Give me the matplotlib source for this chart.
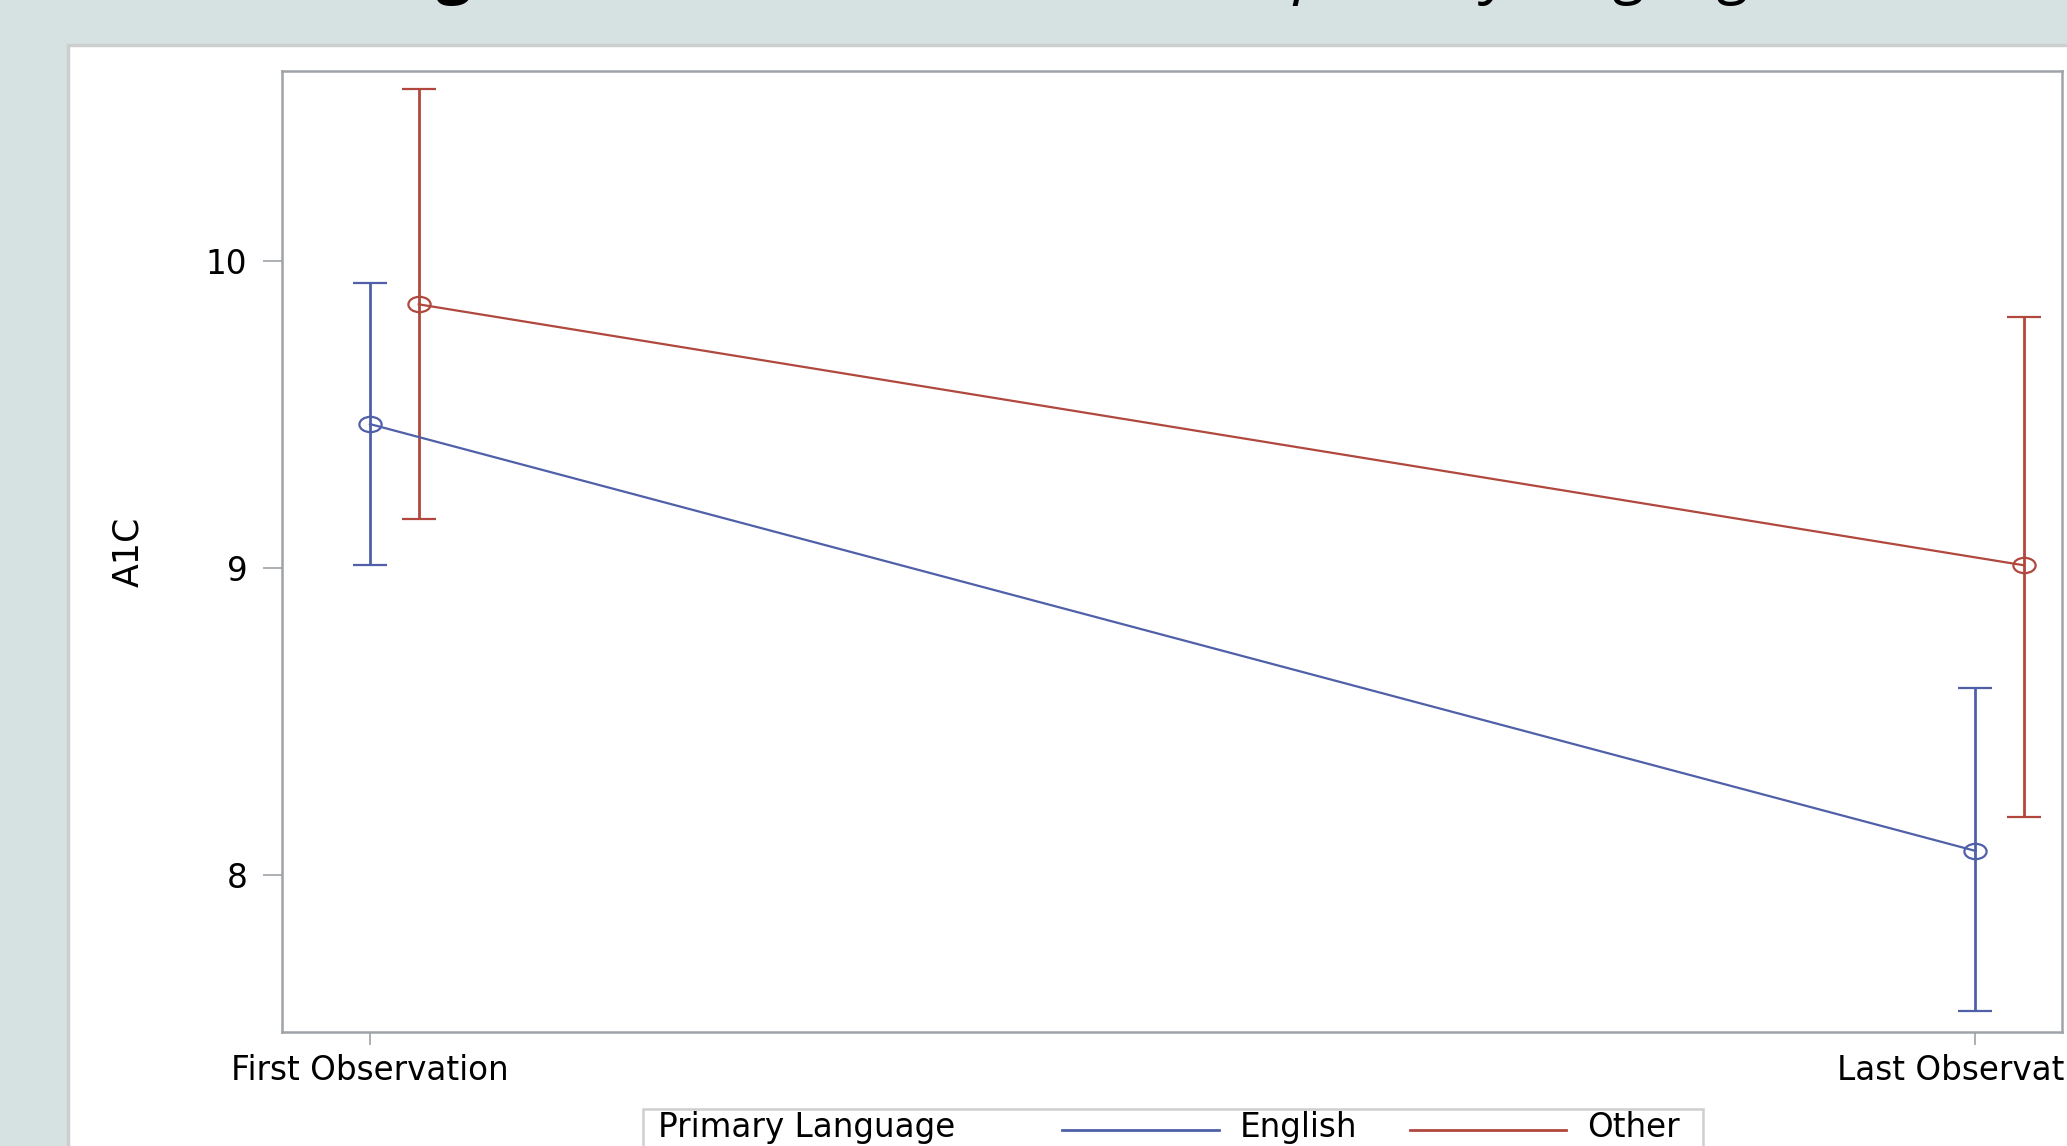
import matplotlib
matplotlib.use('Agg')
import matplotlib.pyplot as plt
import numpy as np
from matplotlib.path import Path
from matplotlib.patches import Rectangle
from matplotlib.lines import Line2D
from matplotlib.transforms import Affine2D

# mean A1C with 95% CI, per observation and primary language
obs_labels = ['First Observation', 'Last Observation']
english_mean = [9.47, 8.08]
english_lo = [9.01, 7.56]
english_hi = [9.93, 8.61]
other_mean = [9.86, 9.01]
other_lo = [9.16, 8.19]
other_hi = [10.56, 9.82]

BLUE = '#4f60a8'
RED = '#b0483d'
W, H = 2067, 1146

plt.rcParams['font.family'] = ['DejaVu Sans']

fig = plt.figure(figsize=(W / 100, H / 100), dpi=100, facecolor='#d6e2e1')


def fx(px):
    return px / W


def fy(py):
    return 1 - py / H


# white slide panel
fig.patches.append(Rectangle((fx(68), -0.02), 1.0, fy(45) + 0.02, transform=fig.transFigure,
                             facecolor='white', edgecolor='#cdcfcf', linewidth=2.5, zorder=-1))

# title (sits above the visible area, only descenders show)
title_y = 1 + 9 / H
fig.text(fx(383), title_y, 'Figure 2:', fontsize=45, fontweight='bold',
         family=['Open Sans', 'DejaVu Sans'], va='baseline', ha='left')
fig.text(fx(720), title_y, 'A1C Over Time and', fontsize=38,
         family=['Open Sans', 'DejaVu Sans'], va='baseline', ha='left')
fig.text(fx(1293), title_y, 'primary language', fontsize=45, fontstyle='italic',
         family=['Open Sans', 'DejaVu Sans'], va='baseline', ha='left')

ax = fig.add_axes([fx(282), fy(1032), fx(2062) - fx(282), fy(71) - fy(1032)])

x = np.arange(len(obs_labels))
offset = 0.0304
ellipse = Path.unit_circle().transformed(Affine2D().scale(1.45, 1.0))

for xs, m, lo, hi, c in [(x, english_mean, english_lo, english_hi, BLUE),
                         (x + offset, other_mean, other_lo, other_hi, RED)]:
    m = np.array(m)
    yerr = [m - np.array(lo), np.array(hi) - m]
    ax.errorbar(xs, m, yerr=yerr, color=c, linewidth=1.6, elinewidth=2.0,
                capsize=12, capthick=1.8, marker=ellipse, markersize=16,
                markerfacecolor='none', markeredgecolor=c, markeredgewidth=1.6)

ax.set_xlim(-0.0548, 1.054)
ax.set_ylim(7.49, 10.62)
ax.set_xticks(x)
ax.set_xticklabels(obs_labels)
ax.set_yticks([8, 9, 10])
ax.set_yticklabels(['8', '9', '10'])

for s in ax.spines.values():
    s.set_color('#9ea3a8')
    s.set_linewidth(1.8)

ax.tick_params(axis='y', length=14, width=1.2, color='#9ea3a8', labelsize=23.5, pad=11)
ax.tick_params(axis='x', length=9, width=1.2, color='#9ea3a8', labelsize=23.5, pad=7)

ax.set_ylabel('A1C', fontsize=25)
ax.yaxis.label.set_va('center')
ax.yaxis.set_label_coords(-0.0865, 0.5)

# legend strip at the bottom
fig.patches.append(Rectangle((fx(643), -0.02), fx(1703) - fx(643), fy(1109) + 0.02,
                             transform=fig.transFigure, facecolor='white',
                             edgecolor='#cdcfcf', linewidth=1.8, zorder=2))
fig.text(fx(658), fy(1137), 'Primary Language', fontsize=23.5, va='baseline', ha='left')
fig.lines.append(Line2D([fx(1062), fx(1219)], [fy(1130), fy(1130)], transform=fig.transFigure,
                        color=BLUE, linewidth=2, zorder=4))
fig.text(fx(1240), fy(1137), 'English', fontsize=23.5, va='baseline', ha='left')
fig.lines.append(Line2D([fx(1410), fx(1566)], [fy(1130), fy(1130)], transform=fig.transFigure,
                        color=RED, linewidth=2, zorder=4))
fig.text(fx(1587), fy(1137), 'Other', fontsize=23.5, va='baseline', ha='left')

fig.savefig('out.png', dpi=100, facecolor=fig.get_facecolor())
